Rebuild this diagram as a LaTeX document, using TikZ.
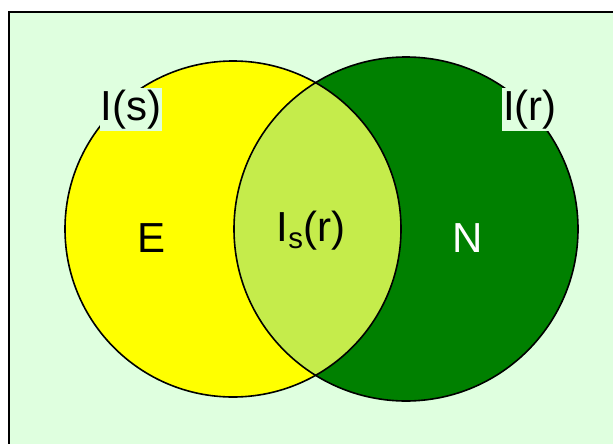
\documentclass[tikz,border=0pt]{standalone}
\usepackage{fontspec}
\setmainfont{Liberation Sans}
\definecolor{panelbg}{HTML}{DFFFDF}
\definecolor{setE}{HTML}{FFFF00}
\definecolor{setN}{HTML}{008000}
\definecolor{overlap}{HTML}{C5EC4B}
\begin{document}
\begin{tikzpicture}[x=1pt,y=-1pt,
  bigtext/.style={font=\fontsize{42}{48}\selectfont, inner sep=0pt, anchor=base},
  tag/.style={bigtext, fill=panelbg, inner xsep=1pt, inner ysep=2pt},
  outline/.style={draw=black, line width=1.6pt}]
  % page and framed panel
  \useasboundingbox (0,0) rectangle (613,444);
  \fill[white] (0,0) rectangle (613,444);
  \draw[fill=panelbg, line width=2pt] (9,12) rectangle (640,470);
  % the two sets
  \coordinate (cE) at (233,229);
  \coordinate (cN) at (406,229);
  \fill[setE] (cE) circle[radius=168];
  \fill[setN] (cN) circle[radius=172];
  \begin{scope}
    \clip (cE) circle[radius=168];
    \fill[overlap] (cN) circle[radius=172];
  \end{scope}
  \draw[outline] (cE) circle[radius=168];
  \draw[outline] (cN) circle[radius=172];
  % labels
  \node[bigtext] (lE) at (152,252) {E};
  \node[bigtext, text=white] (lN) at (468,252) {N};
  \node[bigtext] (lI) at (311,241) {I\textsubscript{s}(r)};
  \node[tag] (ls) at (131,120) {I(s)};
  \node[tag] (lr) at (530,120) {I(r)};
\end{tikzpicture}
\end{document}
